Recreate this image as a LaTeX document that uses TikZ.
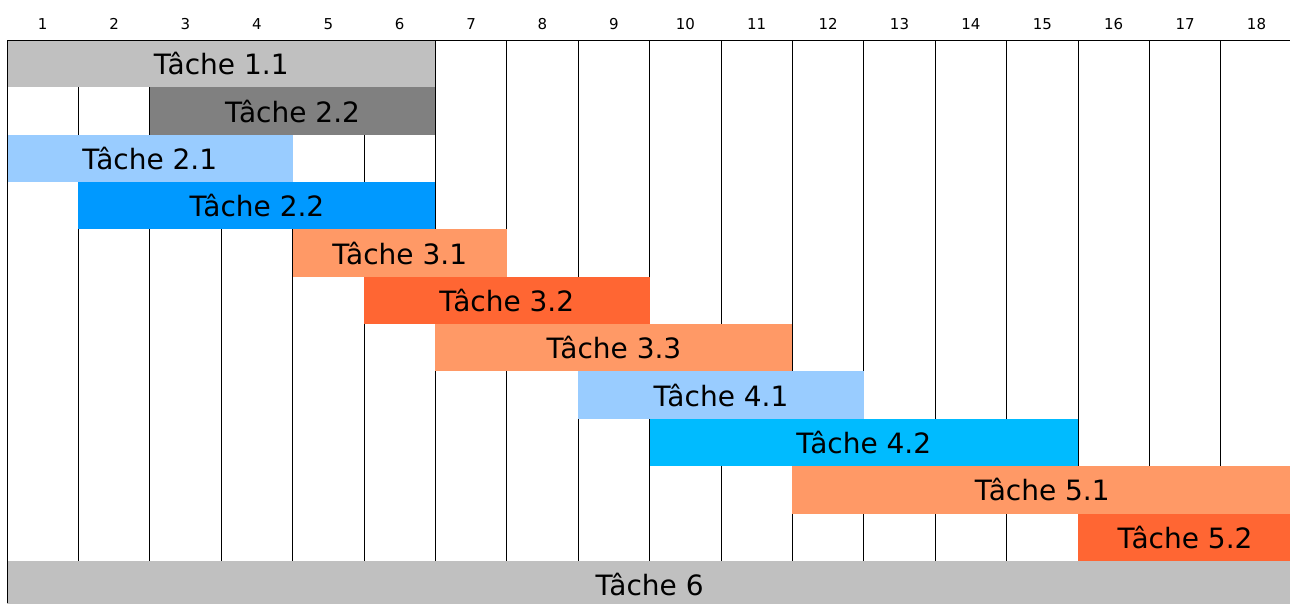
\documentclass[tikz,border=0pt]{standalone}
\usepackage{fontspec}
\setmainfont{DejaVu Sans}
\definecolor{gA}{HTML}{C0C0C0}
\definecolor{gB}{HTML}{808080}
\definecolor{lb}{HTML}{99CCFF}
\definecolor{bA}{HTML}{0099FF}
\definecolor{bB}{HTML}{00BBFF}
\definecolor{oA}{HTML}{FF9966}
\definecolor{oB}{HTML}{FF6633}
\begin{document}
\begin{tikzpicture}[x=1pt,y=-1pt,
  bar/.style={anchor=north west, inner sep=0pt, outer sep=0pt, minimum height=47.35pt, font=\fontsize{28}{30}\selectfont, text=black},
  hdr/.style={inner sep=0pt, anchor=base, font=\fontsize{15}{17}\selectfont},
  gridline/.style={black, line width=0.9pt}]
\def\cw{71.4}
\def\rh{47.35}
\useasboundingbox (0,0) rectangle (1290,603);
\fill[white] (0,0) rectangle (1290,603);
% grid
\foreach \i in {1,...,18} {
  \draw[gridline] ({7+\i*\cw},40) -- ({7+\i*\cw},561);
  \node[hdr] (h\i) at ({7+(\i-0.5)*\cw},29) {\i};
}
% bars
\foreach \a/\n/\r/\c/\t/\nm in {
  1/6/1/gA/{Tâche 1.1}/tA,
  3/4/2/gB/{Tâche 2.2}/tB,
  1/4/3/lb/{Tâche 2.1}/tC,
  2/5/4/bA/{Tâche 2.2}/tD,
  5/3/5/oA/{Tâche 3.1}/tE,
  6/4/6/oB/{Tâche 3.2}/tF,
  7/5/7/oA/{Tâche 3.3}/tG,
  9/4/8/lb/{Tâche 4.1}/tH,
  10/6/9/bB/{Tâche 4.2}/tI,
  12/7/10/oA/{Tâche 5.1}/tJ,
  16/3/11/oB/{Tâche 5.2}/tK,
  1/18/12/gA/{Tâche 6}/tL} {
  \node[bar, fill=\c, minimum width={\n*\cw pt}] (\nm) at ({7+(\a-1)*\cw},{40+(\r-1)*\rh}) {\t};
}
\draw[gridline] (7,40) -- (1290,40);
\draw[gridline] (7,40) -- (7,603);
\end{tikzpicture}
\end{document}
